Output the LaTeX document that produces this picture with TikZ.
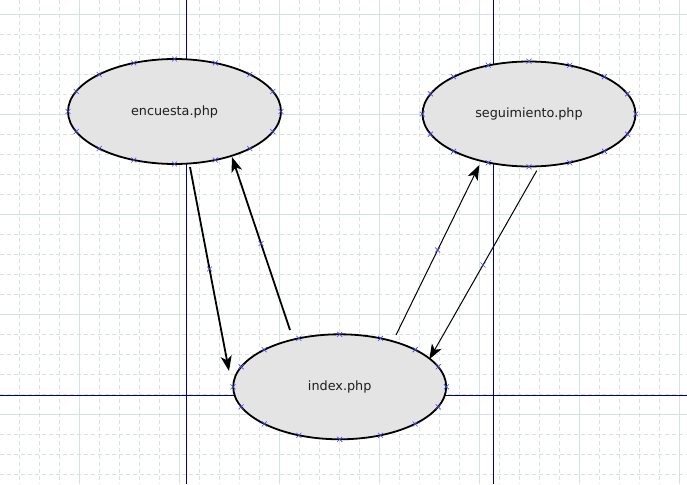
\documentclass[tikz,border=0pt]{standalone}
\usepackage{fontspec}
\setmainfont{DejaVu Sans}
\usetikzlibrary{shapes.geometric,arrows.meta,calc}
\definecolor{gridc}{RGB}{214,226,224}
\definecolor{axisc}{RGB}{0,0,128}
\definecolor{nodefill}{RGB}{228,228,228}
\definecolor{markc}{RGB}{70,70,235}
\definecolor{textc}{RGB}{30,30,30}
\newcommand\drawcross[1]{\draw[xmk] (#1) +(-2.5,-2.5) -- +(2.5,2.5) +(-2.5,2.5) -- +(2.5,-2.5);}
\begin{document}
\begin{tikzpicture}[x=1pt,y=-1pt,
  page/.style={ellipse,draw=black,line width=1.8pt,fill=nodefill,
    minimum width=213pt,minimum height=105pt,inner sep=0pt,text=textc,
    font=\fontsize{12.8}{15}\selectfont},
  link/.style={-{Stealth[length=15pt,width=11pt,inset=4pt]},black},
  thicklink/.style={link,line width=1.8pt},
  thinlink/.style={link,line width=1pt},
  gridsolid/.style={gridc,line width=0.8pt},
  griddash/.style={gridc,line width=0.8pt,dash pattern=on 4pt off 3pt},
  axis/.style={axisc,line width=1pt},
  xmk/.style={markc,line width=0.6pt}]
\fill[white] (0,0) rectangle (687,484);
\useasboundingbox (0,0) rectangle (687,484);
% grid
\foreach \x in {19.5,39.5,...,679.5} \draw[griddash] (\x,0) -- (\x,484);
\foreach \y in {14,34,...,474} \draw[griddash] (0,\y) -- (687,\y);
\foreach \x in {79.5,179.5,...,679.5} \draw[gridsolid] (\x,0) -- (\x,484);
\foreach \y in {14,114,...,414} \draw[gridsolid] (0,\y) -- (687,\y);
% axes
\draw[axis] (186,0) -- (186,484);
\draw[axis] (493,0) -- (493,484);
\draw[axis] (0,395) -- (687,395);
% nodes
\node[page] (enc) at (174.5,111.5) {encuesta.php};
\node[page] (seg) at (529,114) {seguimiento.php};
\node[page] (idx) at (339.7,386.8) {index.php};
% marks on ellipses
\foreach \n/\rx/\ry in {enc/106.5/52.5, seg/106.7/52.8, idx/106.7/52.5}{
  \foreach \k in {0,...,15}{
    \drawcross{$(\n.center)+({\rx*cos(\k*22.5)},{\ry*sin(\k*22.5)})$}
  }
}
% connector end points
\coordinate (a1s) at ([shift={(15.5,55.5)}]enc.center);
\coordinate (a1e) at ([shift={(-110.7,-15.8)}]idx.center);
\coordinate (a2s) at ([shift={(-49.7,-56.8)}]idx.center);
\coordinate (a2e) at ([shift={(57.5,45.5)}]enc.center);
\coordinate (a3s) at ([shift={(56.3,-51.8)}]idx.center);
\coordinate (a3e) at ([shift={(-49.7,51)}]seg.center);
\coordinate (a4s) at ([shift={(7.7,56.7)}]seg.center);
\coordinate (a4e) at ([shift={(89.6,-27.5)}]idx.center);
% connectors
\draw[thicklink] (a1s) -- (a1e);
\draw[thicklink] (a2s) -- (a2e);
\draw[thinlink] (a3s) -- (a3e);
\draw[thinlink] (a4s) -- (a4e);
\drawcross{$(a1s)!0.5!(a1e)$}
\drawcross{$(a2s)!0.5!(a2e)$}
\drawcross{$(a3s)!0.5!(a3e)$}
\drawcross{$(a4s)!0.5!(a4e)$}
\end{tikzpicture}
\end{document}
